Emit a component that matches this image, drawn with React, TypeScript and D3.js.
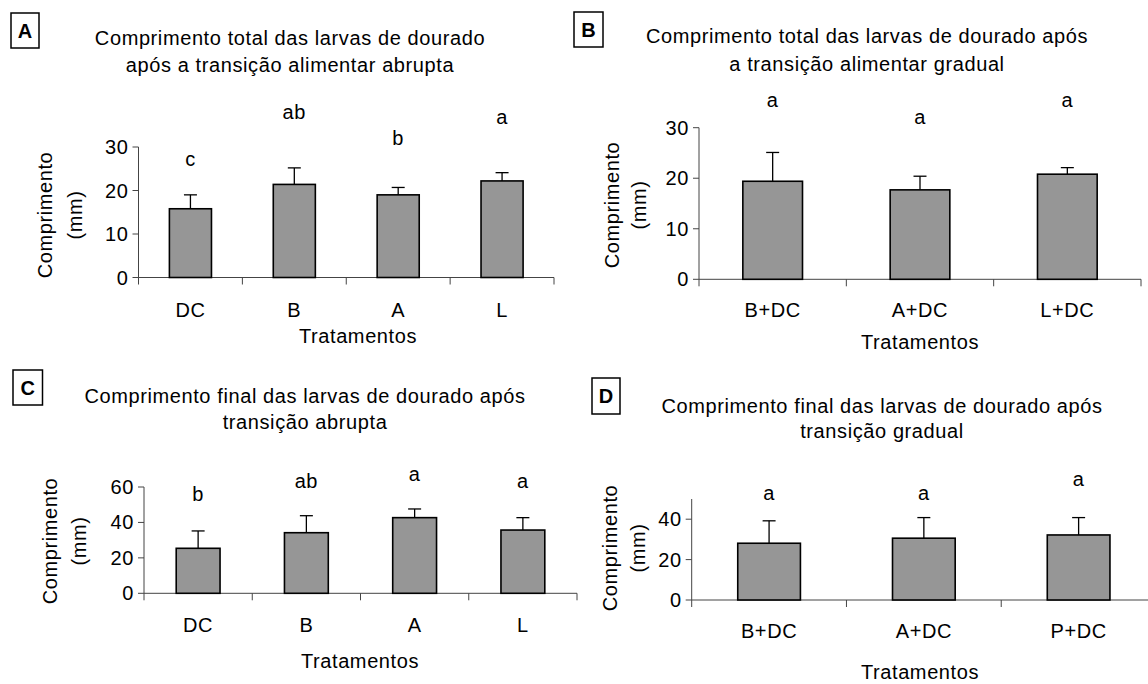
import React from "react";
import * as d3 from "d3";

// ---------- data ----------
const catsA = ["DC", "B", "A", "L"];
const meansA = [15.8, 21.4, 19.0, 22.2];
const sdA = [3.2, 3.8, 1.7, 1.9];
const lettersA = ["c", "ab", "b", "a"];
const letterYA = [25.6, 36.4, 30.4, 35.3];
const ticksA = [0, 10, 20, 30];

const catsB = ["B+DC", "A+DC", "L+DC"];
const meansB = [19.4, 17.7, 20.8];
const sdB = [5.7, 2.7, 1.3];
const lettersB = ["a", "a", "a"];
const letterYB = [34.1, 30.8, 34.1];
const ticksB = [0, 10, 20, 30];

const catsC = ["DC", "B", "A", "L"];
const meansC = [25.4, 34.2, 42.7, 35.7];
const sdC = [9.8, 9.6, 4.9, 7.0];
const lettersC = ["b", "ab", "a", "a"];
const letterYC = [52.3, 59.3, 63.5, 59.4];
const ticksC = [0, 20, 40, 60];

const catsD = ["B+DC", "A+DC", "P+DC"];
const meansD = [28.1, 30.6, 32.2];
const sdD = [11.1, 10.2, 8.6];
const lettersD = ["a", "a", "a"];
const letterYD = [49.6, 49.6, 56.5];
const ticksD = [0, 20, 40];

const yLabel1 = "Comprimento";
const yLabel2 = "(mm)";
const xLabel = "Tratamentos";

const FONT = "'Liberation Sans', Arial, Helvetica, sans-serif";
const FS = 20;
const LS = "0.6px";

type PanelProps = {
  tag: string;
  title: string[];
  cats: string[];
  means: number[];
  sd: number[];
  letters: string[];
  letterY: number[];
  ticks: number[];
  yMax: number;
  layout: {
    x0: number; x1: number; y0: number; yTop: number;
    titleX: number; titleY: [number, number];
    box: [number, number, number, number];
    xTitleX: number; xTitleY: number;
    yT1: number; yT2: number; yTC: number;
    catY: number;
  };
};

function Panel(p: PanelProps) {
  const L = p.layout;
  const x = d3.scaleBand<string>().domain(p.cats).range([L.x0, L.x1]).paddingInner(0).paddingOuter(0);
  const y = d3.scaleLinear().domain([0, p.yMax]).range([L.y0, L.yTop]);
  const bw = x.bandwidth() * 0.405;
  const textStyle = { fontFamily: FONT, fontSize: FS, letterSpacing: LS } as React.CSSProperties;
  const bounds = p.cats.map((c) => x(c) as number).concat([L.x1]);
  return (
    <g>
      {/* panel tag */}
      <rect x={L.box[0]} y={L.box[1]} width={L.box[2]} height={L.box[3]} fill="white" stroke="#000" strokeWidth={1.5} />
      <text x={L.box[0] + L.box[2] / 2} y={L.box[1] + L.box[3] / 2 + 7} textAnchor="middle"
        style={{ fontFamily: FONT, fontSize: 20, fontWeight: "bold" }}>{p.tag}</text>
      {/* title */}
      {p.title.map((t, i) => (
        <text key={i} x={L.titleX} y={L.titleY[i]} textAnchor="middle" style={textStyle}>{t}</text>
      ))}
      {/* y axis */}
      <line x1={L.x0} x2={L.x0} y1={y(0)} y2={y(p.yMax)} stroke="#444" strokeWidth={1} />
      {p.ticks.map((t) => (
        <g key={t}>
          <line x1={L.x0 - 6} x2={L.x0} y1={y(t)} y2={y(t)} stroke="#444" strokeWidth={1} />
          <text x={L.x0 - 10} y={y(t) + 7} textAnchor="end" style={textStyle}>{t}</text>
        </g>
      ))}
      {/* x axis */}
      <line x1={L.x0} x2={L.x1} y1={L.y0} y2={L.y0} stroke="#444" strokeWidth={1} />
      {bounds.map((b, i) => (
        <line key={i} x1={b} x2={b} y1={L.y0} y2={L.y0 + 7} stroke="#444" strokeWidth={1} />
      ))}
      {/* bars */}
      {p.cats.map((c, i) => {
        const cx = (x(c) as number) + x.bandwidth() / 2;
        const top = y(p.means[i]);
        const et = y(p.means[i] + p.sd[i]);
        return (
          <g key={c}>
            <line x1={cx} x2={cx} y1={top} y2={et} stroke="#000" strokeWidth={1.3} />
            <line x1={cx - 6.5} x2={cx + 6.5} y1={et} y2={et} stroke="#000" strokeWidth={1.3} />
            <rect x={cx - bw / 2} y={top} width={bw} height={L.y0 - top} fill="#969696" stroke="#000" strokeWidth={1.6} />
            <text x={cx} y={y(p.letterY[i])} textAnchor="middle" style={textStyle}>{p.letters[i]}</text>
            <text x={cx} y={L.catY} textAnchor="middle" style={textStyle}>{c}</text>
          </g>
        );
      })}
      {/* axis titles */}
      <text x={L.xTitleX} y={L.xTitleY} textAnchor="middle" style={textStyle}>{xLabel}</text>
      <text transform={`translate(${L.yT1},${L.yTC}) rotate(-90)`} textAnchor="middle" style={textStyle}>{yLabel1}</text>
      <text transform={`translate(${L.yT2},${L.yTC}) rotate(-90)`} textAnchor="middle" style={textStyle}>{yLabel2}</text>
    </g>
  );
}

export default function App() {
  return (
    <svg width={1148} height={684} style={{ position: "absolute", left: 0, top: 0, background: "white" }}>
      <rect x={0} y={0} width={1148} height={684} fill="white" />
      <Panel tag="A"
        title={["Comprimento total das larvas de dourado", "após a transição alimentar abrupta"]}
        cats={catsA} means={meansA} sd={sdA} letters={lettersA} letterY={letterYA} ticks={ticksA} yMax={30}
        layout={{ x0: 138.5, x1: 554, y0: 277.5, yTop: 147, titleX: 290, titleY: [45, 71.7],
          box: [11, 13, 28, 35], xTitleX: 358, xTitleY: 343, yT1: 52, yT2: 82, yTC: 215, catY: 317 }} />
      <Panel tag="B"
        title={["Comprimento total das larvas de dourado após", "a transição alimentar gradual"]}
        cats={catsB} means={meansB} sd={sdB} letters={lettersB} letterY={letterYB} ticks={ticksB} yMax={30}
        layout={{ x0: 699, x1: 1141, y0: 279.3, yTop: 127.7, titleX: 867, titleY: [42.7, 70.7],
          box: [574, 12, 29, 35], xTitleX: 920, xTitleY: 349, yT1: 619, yT2: 646, yTC: 205, catY: 316.7 }} />
      <Panel tag="C"
        title={["Comprimento final das larvas de dourado após", "transição abrupta"]}
        cats={catsC} means={meansC} sd={sdC} letters={lettersC} letterY={letterYC} ticks={ticksC} yMax={60}
        layout={{ x0: 144, x1: 577, y0: 593.3, yTop: 487, titleX: 305, titleY: [402.7, 429],
          box: [13, 370, 29.5, 35], xTitleX: 360, xTitleY: 668, yT1: 57, yT2: 86, yTC: 541, catY: 631.7 }} />
      <Panel tag="D"
        title={["Comprimento final das larvas de dourado após", "transição gradual"]}
        cats={catsD} means={meansD} sd={sdD} letters={lettersD} letterY={letterYD} ticks={ticksD} yMax={50}
        layout={{ x0: 691.7, x1: 1156, y0: 600, yTop: 499, titleX: 882, titleY: [413, 438],
          box: [592, 378, 28, 36], xTitleX: 920, xTitleY: 679, yT1: 617, yT2: 645, yTC: 548, catY: 638.3 }} />
    </svg>
  );
}
